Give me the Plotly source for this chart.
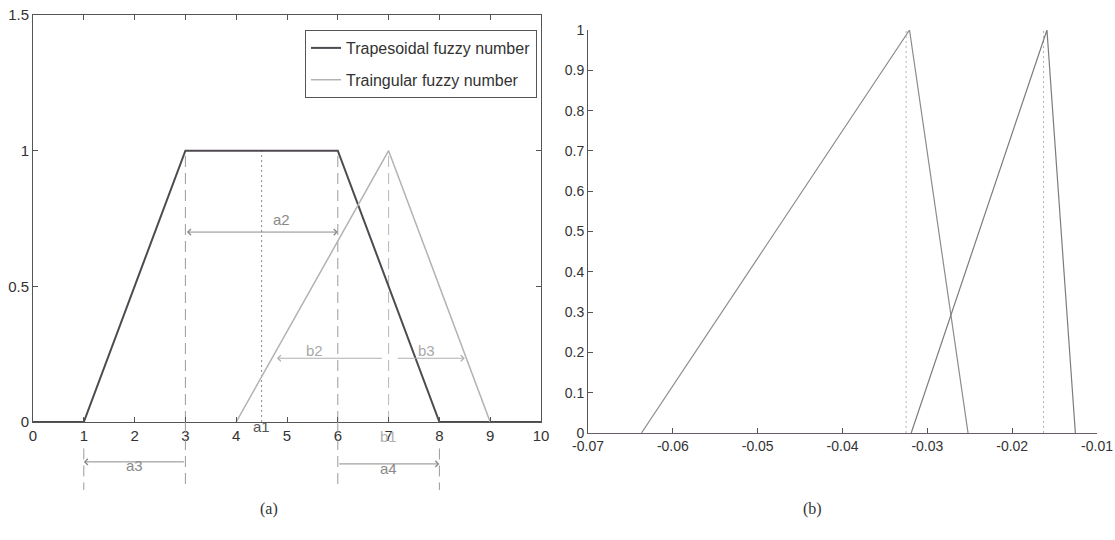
import plotly.graph_objects as go

# ---------------- data ----------------
# Panel (a): fuzzy numbers
trap_x = [0, 1, 3, 6, 8, 10]
trap_y = [0, 0, 1, 1, 0, 0]
tri_x = [4, 7, 9]
tri_y = [0, 1, 0]
trap_names = "Trapesoidal fuzzy number"
tri_names = "Traingular fuzzy number"

dashed_full_x = [3, 6]          # dashed verticals from membership 1 down below the axis
dashed_below_x = [1, 8]         # dashed verticals only below the axis
tri_peak_x = [7]                # dashed vertical of triangle peak
centroid_x = [4.5]              # dotted vertical (a1)

a_xticks = [0, 1, 2, 3, 4, 5, 6, 7, 8, 9, 10]
a_yticks = [0, 0.5, 1, 1.5]
a_yticklabels = ["0", "0.5", "1", "1.5"]

# arrows: (tail_x, head_x, y)
a2_arrow = (3, 6, 0.70)
b2_arrow = (6.9, 4.8, 0.235)
b3_arrow = (7.15, 8.5, 0.235)
a3_arrow = (3, 1)
a4_arrow = (6, 8)

# Panel (b): two triangular fuzzy numbers
t1_x = [-0.0637, -0.0321, -0.0252]
t1_y = [0, 1, 0]
t2_x = [-0.0319, -0.0159, -0.01255]
t2_y = [0, 1, 0]
b_dotted_x = [-0.0325, -0.0163]
b_xticks = [-0.07, -0.06, -0.05, -0.04, -0.03, -0.02, -0.01]
b_xticklabels = ["-0.07", "-0.06", "-0.05", "-0.04", "-0.03", "-0.02", "-0.01"]
b_yticks = [0, 0.1, 0.2, 0.3, 0.4, 0.5, 0.6, 0.7, 0.8, 0.9, 1]
b_yticklabels = ["0", "0.1", "0.2", "0.3", "0.4", "0.5", "0.6", "0.7", "0.8", "0.9", "1"]

# ---------------- figure ----------------
W, H = 1115, 540
fig = go.Figure()

TRAP_C = "#4f4a52"
TRI_C = "#b2b2b2"
ANN_C = "#8a8a8a"
FONT = "Liberation Sans"
DASH = "11px,6px"

# verticals inside panel (a)
for v in dashed_full_x:
    fig.add_trace(go.Scatter(x=[v, v], y=[0, 1], mode="lines", xaxis="x", yaxis="y",
                             line=dict(color="#9a9a9a", width=1, dash=DASH),
                             showlegend=False, hoverinfo="skip"))
for v in tri_peak_x:
    fig.add_trace(go.Scatter(x=[v, v], y=[0, 1], mode="lines", xaxis="x", yaxis="y",
                             line=dict(color="#b8b8b8", width=1, dash=DASH),
                             showlegend=False, hoverinfo="skip"))
for v in centroid_x:
    fig.add_trace(go.Scatter(x=[v, v], y=[0, 1], mode="lines", xaxis="x", yaxis="y",
                             line=dict(color="#8a8a8a", width=1, dash="2px,3px"),
                             showlegend=False, hoverinfo="skip"))

fig.add_trace(go.Scatter(x=trap_x, y=trap_y, mode="lines", name=trap_names,
                         xaxis="x", yaxis="y", legendgroup="g1",
                         line=dict(color=TRAP_C, width=2)))
fig.add_trace(go.Scatter(x=tri_x, y=tri_y, mode="lines", name=tri_names,
                         xaxis="x", yaxis="y", legendgroup="g2",
                         line=dict(color=TRI_C, width=1.5)))

# panel (b)
for v in b_dotted_x:
    fig.add_trace(go.Scatter(x=[v, v], y=[0, 1], mode="lines", xaxis="x2", yaxis="y2",
                             line=dict(color="#c4aab4", width=1, dash="2px,3px"),
                             showlegend=False, hoverinfo="skip"))
fig.add_trace(go.Scatter(x=t1_x, y=t1_y, mode="lines", xaxis="x2", yaxis="y2",
                         line=dict(color="#8c8c8c", width=1.2), showlegend=False))
fig.add_trace(go.Scatter(x=t2_x, y=t2_y, mode="lines", xaxis="x2", yaxis="y2",
                         line=dict(color="#7c7c7c", width=1.2), showlegend=False))

# dashed lines extending below the axis of panel (a)
shapes = []
for v in dashed_full_x:
    shapes.append(dict(type="line", xref="x", yref="y domain", x0=v, x1=v, y0=0, y1=-0.167,
                       line=dict(color="#9a9a9a", width=1, dash=DASH)))
for v in dashed_below_x:
    shapes.append(dict(type="line", xref="x", yref="y domain", x0=v, x1=v, y0=-0.065, y1=-0.167,
                       line=dict(color="#9a9a9a", width=1, dash=DASH)))

annotations = []


def arrow(tail_x, head_x, y, yref, double=False, color=ANN_C):
    return dict(x=head_x, y=y, ax=tail_x, ay=y, xref="x", yref=yref,
                axref="x", ayref=yref, text="", showarrow=True,
                arrowhead=4, startarrowhead=4, arrowsize=1.2, startarrowsize=1.2,
                arrowwidth=1, arrowcolor=color,
                arrowside="end+start" if double else "end")


def label(txt, x, y, yref, color=ANN_C, size=15):
    return dict(x=x, y=y, xref="x", yref=yref, text=txt, showarrow=False,
                font=dict(family=FONT, size=size, color=color))


annotations.append(arrow(a2_arrow[0], a2_arrow[1], a2_arrow[2], "y", double=True))
annotations.append(label("a2", 4.9, 0.745, "y"))
annotations.append(arrow(b2_arrow[0], b2_arrow[1], b2_arrow[2], "y", color="#b0b0b0"))
annotations.append(label("b2", 5.55, 0.262, "y", color="#a8a8a8"))
annotations.append(arrow(b3_arrow[0], b3_arrow[1], b3_arrow[2], "y", color="#b0b0b0"))
annotations.append(label("b3", 7.75, 0.262, "y", color="#a8a8a8"))
annotations.append(arrow(a3_arrow[0], a3_arrow[1], -0.098, "y domain"))
annotations.append(label("a3", 2.0, -0.133, "y domain"))
annotations.append(arrow(a4_arrow[0], a4_arrow[1], -0.103, "y domain"))
annotations.append(label("a4", 7.0, -0.14, "y domain"))
annotations.append(label("a1", 4.5, -0.036, "y domain", color="#555555"))
annotations.append(label("b1", 7.0, -0.062, "y domain", color="#b0b0b0"))

annotations.append(dict(x=258 / W, y=1 - 520 / H, xref="paper", yref="paper", text="(a)",
                        showarrow=False, font=dict(family="Liberation Serif", size=16, color="#333")))
annotations.append(dict(x=824 / W, y=1 - 520 / H, xref="paper", yref="paper", text="(b)",
                        showarrow=False, font=dict(family="Liberation Serif", size=16, color="#333")))

AX_LINE = "#555555"
tickfont = dict(family=FONT, size=15, color="#333333")
tickfont_b = dict(family=FONT, size=14, color="#333333")

common = dict(ticks="inside", ticklen=5, tickcolor=AX_LINE, showline=True,
              showgrid=False, zeroline=False, automargin=False)

fig.update_layout(
    template="none",
    width=W, height=H,
    margin=dict(l=0, r=0, t=0, b=0),
    paper_bgcolor="white", plot_bgcolor="white",
    shapes=shapes, annotations=annotations,
    legend=dict(x=537 / W, y=1 - 30 / H, xanchor="right", yanchor="top",
                bordercolor=AX_LINE, borderwidth=1, bgcolor="white",
                font=dict(family=FONT, size=16, color="#333"),
                traceorder="grouped", tracegroupgap=8),
    xaxis=dict(domain=[33 / W, 541 / W], range=[0, 10], tickvals=a_xticks,
               linecolor=AX_LINE, linewidth=1, mirror="ticks", anchor="y",
               tickfont=tickfont, **common),
    yaxis=dict(domain=[1 - 422 / H, 1 - 15 / H], range=[0, 1.5], tickvals=a_yticks,
               ticktext=a_yticklabels, linecolor=AX_LINE, linewidth=1, mirror="ticks",
               anchor="x", tickfont=tickfont, **common),
    xaxis2=dict(domain=[588 / W, 1097 / W], range=[-0.07, -0.01], tickvals=b_xticks,
                ticktext=b_xticklabels, linecolor="#6a5a6a", linewidth=1.3,
                anchor="y2", ticklabeloverflow="allow", tickfont=tickfont_b, **common),
    yaxis2=dict(domain=[1 - 433 / H, 1 - 30 / H], range=[0, 1], tickvals=b_yticks,
                ticktext=b_yticklabels, linecolor=AX_LINE, linewidth=1,
                anchor="x2", tickfont=tickfont_b, **common),
)

fig.write_html("out.html")
